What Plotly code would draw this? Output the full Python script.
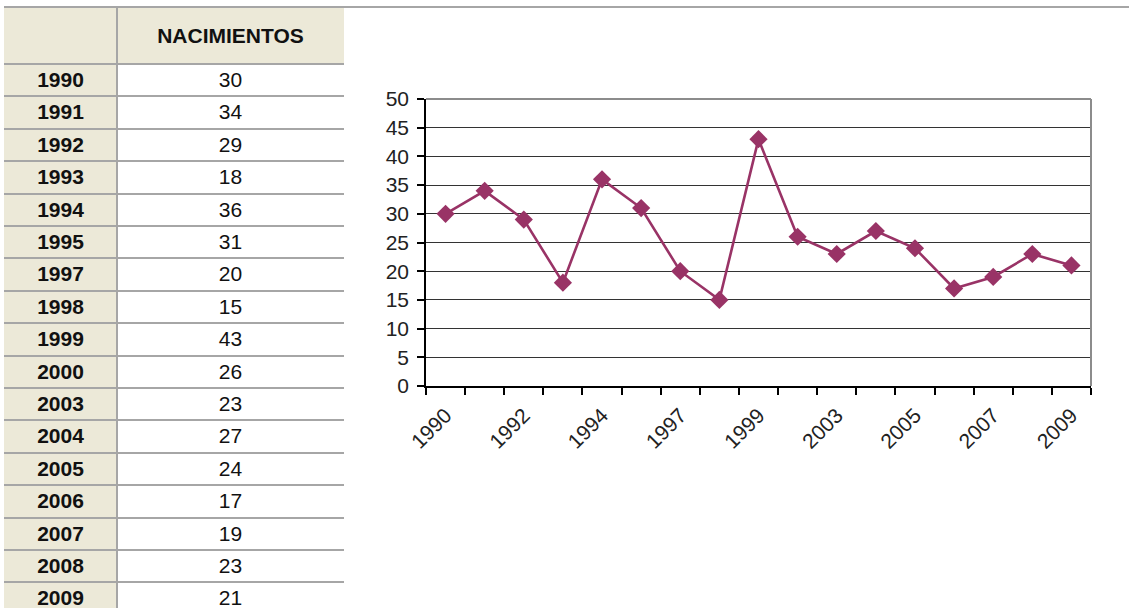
import plotly.graph_objects as go

# ---- data -------------------------------------------------------------
years = ["1990", "1991", "1992", "1993", "1994", "1995", "1997", "1998", "1999",
         "2000", "2003", "2004", "2005", "2006", "2007", "2008", "2009"]
births = [30, 34, 29, 18, 36, 31, 20, 15, 43, 26, 23, 27, 24, 17, 19, 23, 21]
header_label = "NACIMIENTOS"
y_ticks = list(range(0, 51, 5))

# ---- styling ----------------------------------------------------------
W, H = 1129, 608
FONT = "Liberation Sans, Arial, sans-serif"
PLUM = "#993366"
BORDER = "#a6a6a6"
BEIGE = "#ece9d8"

ROW_PX = 32.4          # table row height in pixels
HEADER_PX = 57.0       # header row height in pixels
TABLE_TOP = 7          # pixel row of the sheet's top border
header_rows = HEADER_PX / ROW_PX
table_bottom = (H - TABLE_TOP - HEADER_PX) / ROW_PX  # visible rows below header

n = len(years)
idx = list(range(n))
row_mid = [i + 0.55 for i in idx]

fig = go.Figure()

# line chart
fig.add_trace(go.Scatter(
    x=idx, y=births, mode="lines+markers",
    line=dict(color=PLUM, width=2.6),
    marker=dict(symbol="diamond", size=14, color=PLUM),
    cliponaxis=False, hoverinfo="skip", xaxis="x", yaxis="y",
))

# table contents
YEAR_COL_W = 113
TABLE_W = 340
fig.add_trace(go.Scatter(
    x=[YEAR_COL_W / 2] * n, y=row_mid, mode="text",
    text=[f"<b>{y}</b>" for y in years],
    textfont=dict(family=FONT, size=21, color="#111"),
    hoverinfo="skip", xaxis="x3", yaxis="y3",
))
fig.add_trace(go.Scatter(
    x=[(YEAR_COL_W + TABLE_W) / 2] * n, y=row_mid, mode="text",
    text=[str(b) for b in births],
    textfont=dict(family=FONT, size=21, color="#111"),
    hoverinfo="skip", xaxis="x3", yaxis="y3",
))
fig.add_trace(go.Scatter(
    x=[(YEAR_COL_W + TABLE_W) / 2], y=[-header_rows / 2 + 0.06], mode="text",
    text=[f"<b>{header_label}</b>"],
    textfont=dict(family=FONT, size=21, color="#111"),
    hoverinfo="skip", xaxis="x3", yaxis="y3",
))

tick_font = dict(family=FONT, size=21, color="#222")

fig.update_layout(
    width=W, height=H,
    margin=dict(l=0, r=0, t=0, b=0, pad=0, autoexpand=False),
    paper_bgcolor="white", plot_bgcolor="white",
    showlegend=False,
    xaxis=dict(
        domain=[426 / W, 1091 / W], anchor="y", automargin=False,
        range=[-0.5, n - 0.5],
        tickmode="array", tickvals=idx[::2], ticktext=years[::2],
        tickangle=-45, ticks="outside", ticklen=7,
        tickcolor="rgba(0,0,0,0)",
        minor=dict(tickmode="array", tickvals=[i - 0.5 for i in range(n + 1)],
                   ticks="outside", ticklen=7, tickcolor="#000", tickwidth=1.5,
                   showgrid=False),
        showgrid=False, zeroline=False,
        showline=True, linecolor="#000", linewidth=1.5,
        tickfont=tick_font, fixedrange=True,
    ),
    yaxis=dict(
        domain=[(H - 386) / H, (H - 99) / H], anchor="x", automargin=False,
        range=[0, 50], tickmode="array", tickvals=y_ticks,
        ticks="outside", ticklen=7, tickcolor="#000", tickwidth=1.5,
        ticklabelstandoff=4,
        showgrid=True, gridcolor="#333333", gridwidth=1.3,
        zeroline=False, showline=True, linecolor="#000", linewidth=1.5,
        tickfont=tick_font, fixedrange=True,
    ),
    xaxis3=dict(
        domain=[4 / W, (4 + TABLE_W) / W], anchor="y3", automargin=False,
        range=[0, TABLE_W], tickmode="array", tickvals=[0, YEAR_COL_W, TABLE_W],
        showticklabels=False, ticks="", showgrid=True,
        gridcolor=BORDER, gridwidth=2, zeroline=False, fixedrange=True,
    ),
    yaxis3=dict(
        domain=[0, (H - TABLE_TOP) / H], anchor="x3", automargin=False,
        range=[table_bottom, -header_rows],
        tickmode="array", tickvals=[-header_rows] + list(range(n + 1)),
        showticklabels=False, ticks="", showgrid=True,
        gridcolor=BORDER, gridwidth=2, zeroline=False, fixedrange=True,
    ),
    shapes=[
        # beige year column and header
        dict(type="rect", xref="x3", yref="y3", x0=0, x1=YEAR_COL_W,
             y0=-header_rows, y1=n, fillcolor=BEIGE, line=dict(width=0), layer="below"),
        dict(type="rect", xref="x3", yref="y3", x0=YEAR_COL_W, x1=TABLE_W,
             y0=-header_rows, y1=0, fillcolor=BEIGE, line=dict(width=0), layer="below"),
        # sheet border across the top
        dict(type="line", xref="paper", yref="paper", x0=4 / W, x1=1,
             y0=(H - TABLE_TOP) / H, y1=(H - TABLE_TOP) / H,
             line=dict(color=BORDER, width=2)),
        # chart plot-area frame (top and right)
        dict(type="line", xref="x domain", yref="y domain", x0=0, x1=1, y0=1, y1=1,
             line=dict(color="#8c8c8c", width=2), layer="above"),
        dict(type="line", xref="x domain", yref="y domain", x0=1, x1=1, y0=0, y1=1,
             line=dict(color="#8c8c8c", width=2), layer="above"),
    ],
)

fig.write_html("out.html")
